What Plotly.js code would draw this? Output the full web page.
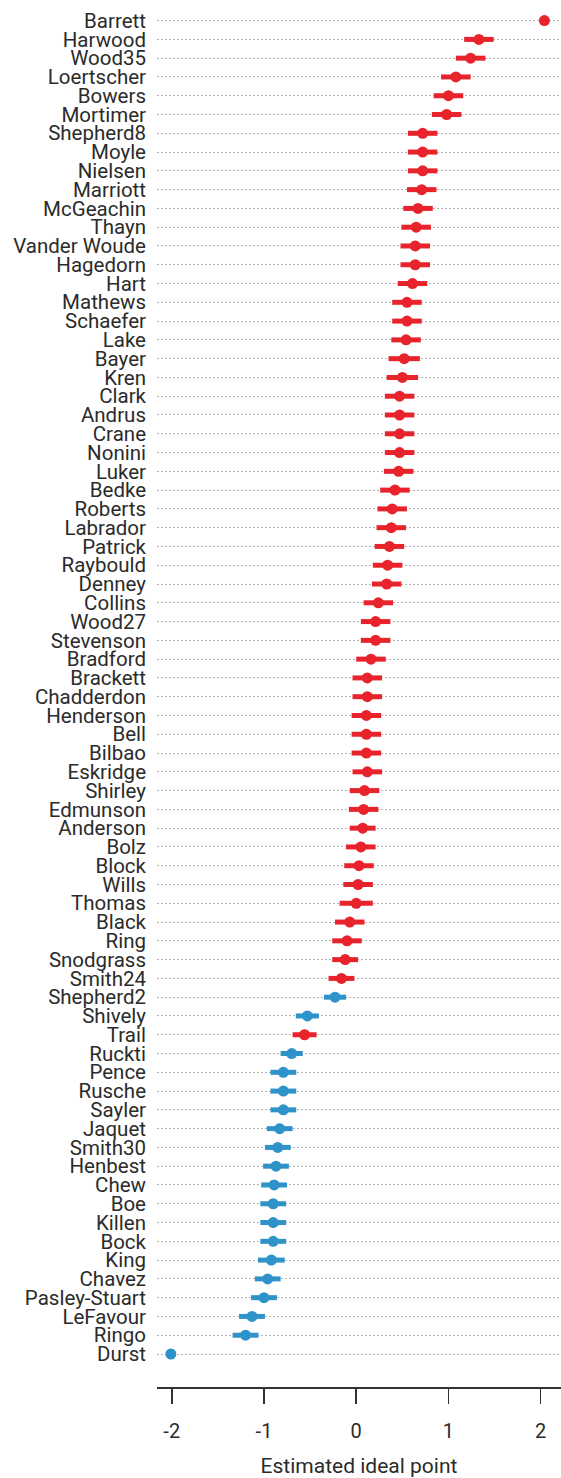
<!DOCTYPE html>
<html>
<head>
<meta charset="utf-8">
<script src="https://cdn.plot.ly/plotly-3.0.1.min.js"></script>
<style>
  html, body { margin: 0; padding: 0; background: #ffffff; }
  #chart { width: 561px; height: 1478px; }
</style>
</head>
<body>
<div id="chart"></div>
<script>
// Legislators, top to bottom
const legislators = [
  "Barrett","Harwood","Wood35","Loertscher","Bowers","Mortimer","Shepherd8","Moyle","Nielsen","Marriott",
  "McGeachin","Thayn","Vander Woude","Hagedorn","Hart","Mathews","Schaefer","Lake","Bayer","Kren",
  "Clark","Andrus","Crane","Nonini","Luker","Bedke","Roberts","Labrador","Patrick","Raybould",
  "Denney","Collins","Wood27","Stevenson","Bradford","Brackett","Chadderdon","Henderson","Bell","Bilbao",
  "Eskridge","Shirley","Edmunson","Anderson","Bolz","Block","Wills","Thomas","Black","Ring",
  "Snodgrass","Smith24","Shepherd2","Shively","Trail","Ruckti","Pence","Rusche","Sayler","Jaquet",
  "Smith30","Henbest","Chew","Boe","Killen","Bock","King","Chavez","Pasley-Stuart","LeFavour",
  "Ringo","Durst"
];

// Estimated ideal points
const idealPoints = [
  2.04, 1.33, 1.24, 1.08, 1.00, 0.98, 0.72, 0.72, 0.72, 0.71,
  0.67, 0.65, 0.64, 0.64, 0.61, 0.55, 0.55, 0.54, 0.52, 0.50,
  0.47, 0.47, 0.47, 0.47, 0.46, 0.42, 0.39, 0.38, 0.36, 0.34,
  0.33, 0.24, 0.21, 0.21, 0.16, 0.12, 0.12, 0.11, 0.11, 0.11,
  0.12, 0.09, 0.08, 0.07, 0.05, 0.03, 0.02, 0.00, -0.07, -0.10,
  -0.12, -0.16, -0.23, -0.53, -0.56, -0.70, -0.79, -0.79, -0.79, -0.83,
  -0.85, -0.87, -0.89, -0.90, -0.90, -0.90, -0.92, -0.96, -1.00, -1.13,
  -1.20, -2.01
];

// Half-width of each uncertainty interval
const intervalHalfWidth = [
  0.00, 0.16, 0.16, 0.16, 0.16, 0.16, 0.16, 0.16, 0.16, 0.16,
  0.16, 0.16, 0.16, 0.16, 0.16, 0.16, 0.16, 0.16, 0.17, 0.17,
  0.16, 0.16, 0.16, 0.16, 0.16, 0.16, 0.16, 0.16, 0.16, 0.16,
  0.16, 0.16, 0.16, 0.16, 0.16, 0.16, 0.16, 0.16, 0.16, 0.16,
  0.16, 0.16, 0.16, 0.14, 0.16, 0.16, 0.16, 0.18, 0.16, 0.16,
  0.14, 0.14, 0.12, 0.125, 0.13, 0.12, 0.14, 0.14, 0.14, 0.14,
  0.14, 0.14, 0.14, 0.14, 0.14, 0.14, 0.145, 0.14, 0.14, 0.14,
  0.14, 0.00
];

// Party: R = red, D = blue
const party = [
  "R","R","R","R","R","R","R","R","R","R",
  "R","R","R","R","R","R","R","R","R","R",
  "R","R","R","R","R","R","R","R","R","R",
  "R","R","R","R","R","R","R","R","R","R",
  "R","R","R","R","R","R","R","R","R","R",
  "R","R","D","D","R","D","D","D","D","D",
  "D","D","D","D","D","D","D","D","D","D",
  "D","D"
];

const tickValues = [-2, -1, 0, 1, 2];
const tickLabels = ["-2", "-1", "0", "1", "2"];

const partyColors = { R: "#e8232b", D: "#2e93c8" };

function traceFor(p) {
  const idx = party.map((v, i) => v === p ? i : -1).filter(i => i >= 0);
  return {
    type: "scatter",
    mode: "markers",
    x: idx.map(i => idealPoints[i]),
    y: idx.map(i => legislators[i]),
    marker: { color: partyColors[p], size: 11, line: { width: 0 } },
    error_x: {
      type: "data",
      array: idx.map(i => intervalHalfWidth[i]),
      visible: true,
      color: partyColors[p],
      thickness: 5,
      width: 0
    },
    hoverinfo: "x+y",
    showlegend: false,
    cliponaxis: false
  };
}

const data = [traceFor("R"), traceFor("D")];

const textColor = "#2b2b2b";
const layout = {
  width: 561,
  height: 1478,
  margin: { l: 157, r: 0, t: 9, b: 91 },
  paper_bgcolor: "#ffffff",
  plot_bgcolor: "#ffffff",
  font: { family: "Roboto, 'Open Sans', sans-serif", color: textColor },
  showlegend: false,
  xaxis: {
    range: [-2.16, 2.22],
    tickvals: tickValues,
    ticktext: tickLabels,
    ticks: "outside",
    ticklen: 15,
    tickwidth: 1.5,
    tickcolor: "#333333",
    showline: true,
    linecolor: "#333333",
    linewidth: 1.5,
    showgrid: false,
    zeroline: false,
    tickfont: { size: 20, color: textColor },
    ticklabelstandoff: 10,
    title: { text: "Estimated ideal point", font: { size: 21, color: textColor }, standoff: 26 },
    fixedrange: true
  },
  yaxis: {
    type: "category",
    categoryorder: "array",
    categoryarray: legislators,
    range: [72.757, -0.618],
    tickvals: legislators,
    ticks: "",
    showline: false,
    showgrid: true,
    gridcolor: "#b4b4b4",
    gridwidth: 1,
    griddash: "2px,2px",
    zeroline: false,
    tickfont: { size: 20.5, color: textColor },
    ticklabelstandoff: 10,
    automargin: false,
    fixedrange: true
  }
};

Plotly.newPlot("chart", data, layout, { staticPlot: true, displayModeBar: false });
</script>
</body>
</html>
